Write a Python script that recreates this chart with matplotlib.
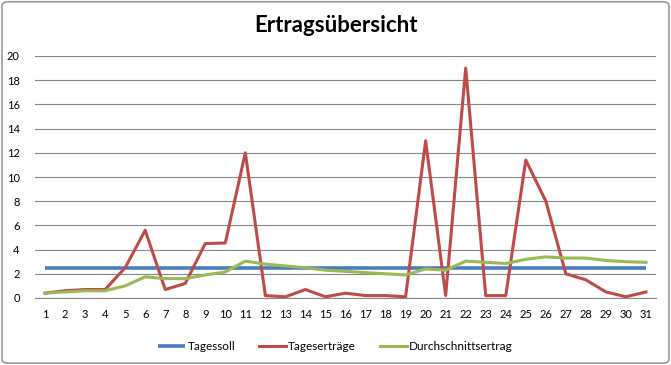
import numpy as np
import matplotlib.pyplot as plt
from matplotlib.patches import FancyBboxPatch

# data
days = list(range(1, 32))
tagessoll = [2.5] * 31
tagesertraege = [0.4, 0.6, 0.7, 0.7, 2.5, 5.6, 0.7, 1.2, 4.5, 4.55,
                 12.0, 0.2, 0.1, 0.7, 0.1, 0.4, 0.2, 0.2, 0.1, 13.0,
                 0.2, 19.0, 0.2, 0.2, 11.4, 8.0, 2.0, 1.5, 0.5, 0.1, 0.5]
durchschnitt = [0.4, 0.5, 0.6, 0.6, 1.0, 1.75, 1.6, 1.6, 1.9, 2.15,
                3.05, 2.8, 2.65, 2.5, 2.3, 2.2, 2.1, 2.0, 1.9, 2.4,
                2.3, 3.05, 2.95, 2.85, 3.2, 3.4, 3.3, 3.3, 3.1, 3.0, 2.95]
yticks = list(range(0, 21, 2))

plt.rcParams['font.family'] = ['Lato', 'DejaVu Sans']

fig = plt.figure(figsize=(6.71, 3.65), dpi=100)
ax = fig.add_axes([35 / 671, 67 / 365, 621 / 671, 242 / 365])

# rounded outer frame like the spreadsheet chart
fig.patches.append(FancyBboxPatch((0.003, 0.005), 0.994, 0.99,
                                  boxstyle="round,pad=0,rounding_size=0.01",
                                  transform=fig.transFigure, fill=False,
                                  edgecolor='#868686', linewidth=1.0))

ax.plot(days, tagessoll, color='#4A7EBB', lw=2.6, label='Tagessoll', solid_capstyle='butt')
ax.plot(days, tagesertraege, color='#BE4B48', lw=2.2, label='Tageserträge')
ax.plot(days, durchschnitt, color='#98B954', lw=2.2, label='Durchschnittsertrag')

ax.set_xlim(0.5, 31.5)
ax.set_ylim(0, 20)
ax.set_xticks(days)
ax.set_xticklabels([str(d) for d in days], fontsize=8)
ax.set_yticks(yticks)
ax.set_yticklabels([str(v) for v in yticks], fontsize=8)
ax.tick_params(axis='both', length=0, pad=8)
ax.tick_params(axis='y', pad=11)
ax.grid(axis='y', color='#868686', lw=0.8)
ax.set_axisbelow(True)
for s in ['left', 'right', 'top']:
    ax.spines[s].set_visible(False)
ax.spines['bottom'].set_color('#868686')

fig.text(0.500, 0.93, 'Ertragsübersicht', ha='center', va='center',
         fontsize=16, fontweight='bold')

fig.legend(loc='center', bbox_to_anchor=(0.500, 0.05), ncol=3, frameon=False,
           fontsize=8.5, handlelength=2.3, columnspacing=2.0, handletextpad=0.2)

fig.savefig('out.png', dpi=100)
